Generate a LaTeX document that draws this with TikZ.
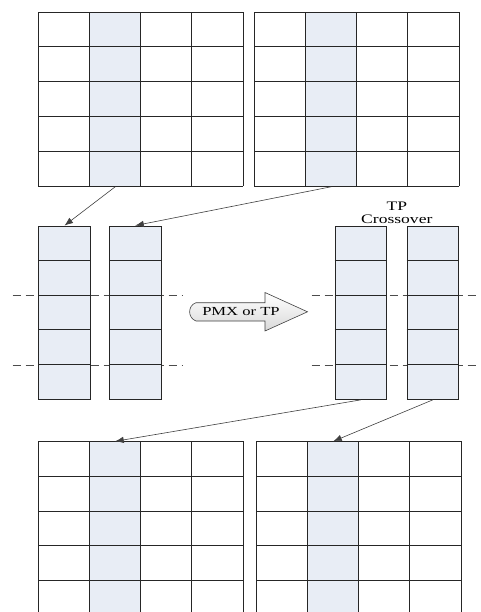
\documentclass[tikz,border=0pt]{standalone}
\usepackage{fontspec}
\setmainfont{Liberation Serif}
\newfontfamily\widefont[FakeStretch=1.35]{Liberation Serif}
\usetikzlibrary{arrows.meta,positioning,calc}
\definecolor{cellblue}{RGB}{232,237,245}
\tikzset{every picture/.style={line width=0.75pt}}

\begin{document}
\begin{tikzpicture}[x=1pt,y=1pt,
    selcol/.style={fill=cellblue, inner sep=0pt, minimum width=51.25pt, minimum height=174pt, anchor=north west},
    segcol/.style={draw=black!85, line width=0.8pt, fill=cellblue, inner sep=0pt, minimum width=51.5pt, minimum height=173.5pt},
    gridline/.style={black!85, line width=0.8pt, xstep=51.25pt, ystep=34.8pt},
    link/.style={black!75, line width=0.6pt, -{Latex[length=8.5pt,width=6.5pt]}},
    cutline/.style={black!70, line width=0.6pt, dash pattern=on 8pt off 5pt}]
    \useasboundingbox (0,0) rectangle (480,-612);

    % 父代染色体 (上方两个网格)
    \node[selcol] (paSel) at (89.25,-12) {};
    \node[selcol] (pbSel) at (305.25,-12) {};
    \begin{scope}[shift={(38,-12)}]
        \draw[gridline] (0,0) grid (205.1,-174.1);
    \end{scope}
    \begin{scope}[shift={(254,-12)}]
        \draw[gridline] (0,0) grid (205.1,-174.1);
    \end{scope}

    % 子代染色体 (下方两个网格, 底部被裁去)
    \node[selcol] (caSel) at (89.25,-441.3) {};
    \node[selcol] (cbSel) at (307.25,-441.3) {};
    \begin{scope}[shift={(38,-441.3)}]
        \draw[gridline] (0,0) grid (205.1,-174.1);
    \end{scope}
    \begin{scope}[shift={(256,-441.3)}]
        \draw[gridline] (0,0) grid (205.1,-174.1);
    \end{scope}

    % 交叉点虚线
    \draw[cutline] (12.7,-295.4) -- (182.7,-295.4);
    \draw[cutline] (12.7,-364.8) -- (182.7,-364.8);
    \draw[cutline] (311.7,-295.4) -- (480,-295.4);
    \draw[cutline] (311.7,-364.8) -- (480,-364.8);

    % 抽出的基因列
    \node[segcol] (segA) at (64.5,-312.7) {};
    \node[segcol, right=18.5pt of segA] (segB) {};
    \node[segcol] (offA) at (360.8,-312.7) {};
    \node[segcol, right=19.7pt of offA] (offB) {};
    \foreach \n in {segA,segB,offA,offB}
        \foreach \k in {1,...,4}
            \draw[black!85, line width=0.8pt] ($(\n.north west)+(0,-34.7*\k)$) -- ($(\n.north east)+(0,-34.7*\k)$);

    \node[font=\widefont\fontsize{13}{13.5}\selectfont, align=center, inner sep=1pt, anchor=south]
        (tpLabel) at ($(offA.north east)!0.5!(offB.north west)+(0,0.5)$) {TP\\Crossover};

    % 交叉算子箭头
    \draw[black!75, line width=0.6pt, top color=white, bottom color=black!15]
        (196,-302.7) -- (265,-302.7) -- (265,-292.5) -- (307.5,-311.8) -- (265,-331) -- (265,-321)
        -- (196,-321) .. controls (187.5,-318) and (187.5,-305.5) .. cycle;
    \node[font=\widefont\fontsize{12.3}{14}\selectfont] (opLabel) at (241,-311.8) {PMX or TP};

    % 连线
    \draw[link] (paSel.south) -- (segA.north);
    \draw[link] (pbSel.south) -- (segB.north);
    \draw[link] (offA.south) -- (caSel.north);
    \draw[link] (offB.south) -- (cbSel.north);
\end{tikzpicture}
\end{document}
